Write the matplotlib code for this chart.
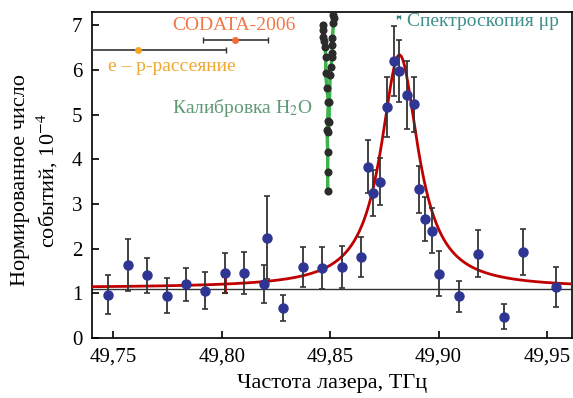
import numpy as np
import matplotlib.pyplot as plt

plt.rcParams['font.family'] = ['Liberation Serif', 'DejaVu Serif']
plt.rcParams['mathtext.fontset'] = 'stix'

# measured points (laser frequency, THz; normalized events, 1e-4)
freq = [49.7476, 49.7566, 49.7657, 49.7746, 49.7835, 49.7925, 49.8015, 49.8105,
        49.8194, 49.8208, 49.8282, 49.8373, 49.8463, 49.8554, 49.8644, 49.8673,
        49.8700, 49.8732, 49.8764, 49.8793, 49.8819, 49.8853, 49.8885, 49.8911,
        49.8939, 49.8971, 49.9002, 49.9093, 49.9182, 49.9302, 49.9391, 49.9542]
counts = [0.97, 1.64, 1.40, 0.95, 1.20, 1.06, 1.45, 1.46,
          1.21, 2.25, 0.68, 1.59, 1.56, 1.59, 1.82, 3.84,
          3.25, 3.50, 5.17, 6.20, 5.98, 5.44, 5.23, 3.33,
          2.66, 2.40, 1.44, 0.93, 1.89, 0.48, 1.92, 1.14]
errs = [0.44, 0.58, 0.40, 0.39, 0.37, 0.41, 0.45, 0.47,
        0.43, 0.92, 0.29, 0.44, 0.47, 0.48, 0.45, 0.60,
        0.51, 0.53, 0.67, 0.78, 0.69, 0.76, 0.62, 0.53,
        0.49, 0.50, 0.51, 0.35, 0.53, 0.28, 0.52, 0.44]

# fitted resonance (Lorentzian) parameters
fit_center = 49.882
fit_width = 0.0105
fit_amp = 5.22
fit_base = 1.12
background = 1.10
base_err_x, base_err_y, base_err = 49.8015, 1.19, 0.18

# H2O calibration points (two scans)
cal1_x = [49.8465, 49.8469, 49.8469, 49.8474, 49.8477, 49.8480, 49.8480, 49.8485,
          49.8492, 49.8489, 49.8486, 49.8489, 49.8489, 49.8489]
cal1_y = [7.01, 6.90, 6.75, 6.64, 6.52, 6.30, 5.93, 5.59, 5.29, 4.87, 4.65, 4.16, 3.71, 3.30]
cal2_x = [49.8515, 49.8518, 49.8515, 49.8511, 49.8508, 49.8511, 49.8508, 49.8505,
          49.8500, 49.8497, 49.8495, 49.8492]
cal2_y = [7.24, 7.16, 7.05, 6.71, 6.56, 6.38, 6.30, 6.07, 5.89, 5.29, 4.84, 4.61]

# reference values
codata_x, codata_y, codata_err = 49.8062, 6.68, 0.015
ep_x, ep_y, ep_err = 49.7614, 6.45, 0.0405
mup_x, mup_y, mup_err = 49.8815, 7.18, 0.0008

fig = plt.figure(figsize=(5.73, 3.98), dpi=100)
ax = fig.add_axes([0.1606, 0.1508, 0.8374, 0.819])

xs = np.linspace(49.73, 49.97, 600)
ax.axhline(background, color='#333333', lw=1.0, zorder=1)
ax.plot(xs, fit_base + fit_amp / (1 + ((xs - fit_center) / fit_width) ** 2),
        color='#c00000', lw=2.0, zorder=3)
ax.errorbar(base_err_x, base_err_y, yerr=base_err, color='#c00000', lw=2.0,
            capsize=2.5, capthick=1.5, zorder=3)

ax.errorbar(freq, counts, yerr=errs, fmt='o', color='#2e3592', ms=6.5,
            ecolor='#333333', elinewidth=1.3, capsize=2.5, capthick=1.2, zorder=4)

ax.plot(cal1_x, cal1_y, color='#3cb44b', lw=2.5, zorder=2)
ax.plot(cal2_x, cal2_y, color='#3cb44b', lw=2.5, zorder=2)
ax.plot(cal1_x, cal1_y, 'o', color='#2b2b2b', ms=4.8, zorder=3)
ax.plot(cal2_x, cal2_y, 'o', color='#2b2b2b', ms=4.8, zorder=3)

ax.errorbar(codata_x, codata_y, xerr=codata_err, fmt='o', color='#f26b3a', ms=4,
            ecolor='#333333', elinewidth=1.2, capsize=2.5, zorder=5)
ax.errorbar(ep_x, ep_y, xerr=ep_err, fmt='o', color='#f5a623', ms=4,
            ecolor='#333333', elinewidth=1.2, capsize=2.5, zorder=5)
ax.errorbar(mup_x, mup_y, xerr=mup_err, fmt='none', ecolor='#2f7f7f',
            elinewidth=1.5, capsize=1.5, zorder=5)

ax.text(49.7772, 7.0, 'CODATA-2006', color='#f07848', fontsize=14, va='center', ha='left')
ax.text(49.7477, 6.07, 'e – p-рассеяние', color='#f0a830', fontsize=14, va='center', ha='left')
ax.text(49.7772, 5.14, 'Калибровка H$_2$O', color='#5f9a75', fontsize=14, va='center', ha='left')
ax.text(49.8855, 7.08, 'Спектроскопия μp', color='#3f8f8c', fontsize=14, va='center', ha='left')

ax.set_xlim(49.7402, 49.9615)
ax.set_ylim(0, 7.3)
ax.set_xticks([49.75, 49.80, 49.85, 49.90, 49.95])
ax.set_xticklabels(['49,75', '49,80', '49,85', '49,90', '49,95'])
ax.set_yticks(range(8))
ax.tick_params(direction='in', length=5, width=1.2, labelsize=15, pad=7)
for s in ax.spines.values():
    s.set_linewidth(1.2)

ax.set_xlabel('Частота лазера, ТГц', fontsize=16, labelpad=5)
fig.text(0.035, 0.547, 'Нормированное число', rotation=90, fontsize=16, ha='center', va='center')
fig.text(0.082, 0.547, 'событий, 10$^{-4}$', rotation=90, fontsize=16, ha='center', va='center')

fig.savefig('out.png', dpi=100)
